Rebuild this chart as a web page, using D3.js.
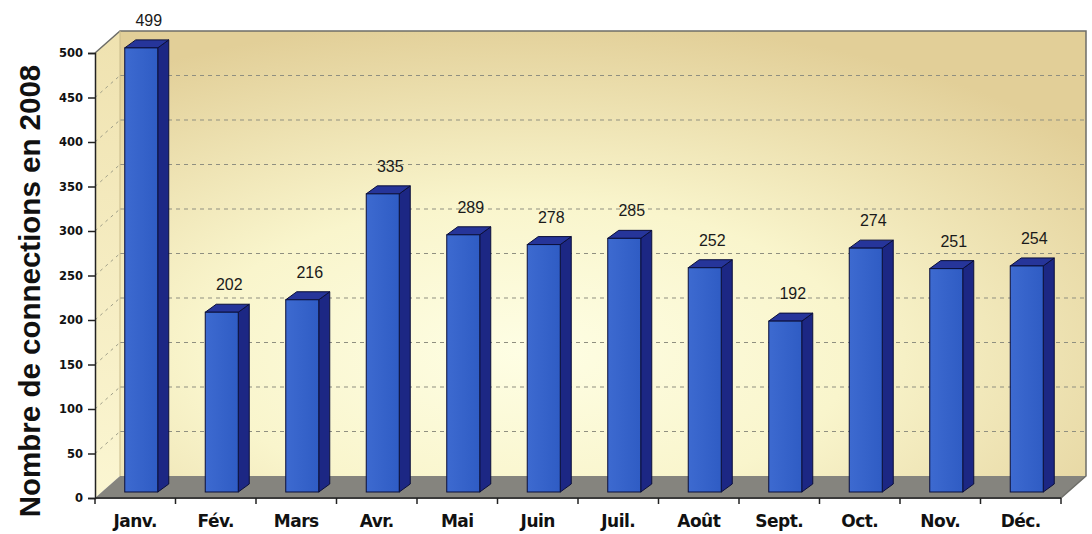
<!DOCTYPE html>
<html>
<head>
<meta charset="utf-8">
<script src="https://cdn.jsdelivr.net/npm/d3@7"></script>
<style>
  body { margin: 0; background: #fff; }
  svg { display: block; }
</style>
</head>
<body>
<div id="chart"></div>
<script>
const months = ['Janv.', 'Fév.', 'Mars', 'Avr.', 'Mai', 'Juin', 'Juil.', 'Août', 'Sept.', 'Oct.', 'Nov.', 'Déc.']
const connections = [499, 202, 216, 335, 289, 278, 285, 252, 192, 274, 251, 254]
const yTicks = [0, 50, 100, 150, 200, 250, 300, 350, 400, 450, 500]
const yTitle = 'Nombre de connections en 2008'

const width = 1092
const height = 534
// depth of the 3d box
const depthX = 25
const depthY = 22
// bar placement inside the depth
const barOffX = 6
const barOffY = 6
const barDx = 11
const barDy = 8

const x = d3.scaleBand().domain(months).range([95, 1061])
const y = d3.scaleLinear().domain([0, 500]).range([498, 53])
const barW = x.bandwidth() * 0.41

const svg = d3.select('#chart')
  .append('svg')
  .attr('width', width)
  .attr('height', height)

const defs = svg.append('defs')
const wall = defs.append('radialGradient')
  .attr('id', 'wall')
  .attr('cx', '42%').attr('cy', '72%').attr('r', '75%')
wall.append('stop').attr('offset', '0%').attr('stop-color', '#fefee4')
wall.append('stop').attr('offset', '45%').attr('stop-color', '#f9f5cc')
wall.append('stop').attr('offset', '100%').attr('stop-color', '#e2cf98')

const side = defs.append('linearGradient')
  .attr('id', 'side').attr('x1', 0).attr('y1', 0).attr('x2', 0).attr('y2', 1)
side.append('stop').attr('offset', '0%').attr('stop-color', '#efe2b0')
side.append('stop').attr('offset', '100%').attr('stop-color', '#fbf6d2')

const front = defs.append('linearGradient')
  .attr('id', 'front').attr('x1', 0).attr('y1', 0).attr('x2', 1).attr('y2', 0)
front.append('stop').attr('offset', '0%').attr('stop-color', '#3d6ad0')
front.append('stop').attr('offset', '100%').attr('stop-color', '#2f5cc4')

const x0 = x.range()[0]
const x1 = x.range()[1]
const yTop = y(500)
const yBot = y(0)

// back wall
svg.append('rect')
  .attr('x', x0 + depthX)
  .attr('y', yTop - depthY)
  .attr('width', x1 - x0)
  .attr('height', yBot - yTop)
  .attr('fill', 'url(#wall)')

// left side wall
svg.append('path')
  .attr('d', `M${x0},${yTop} L${x0 + depthX},${yTop - depthY} L${x0 + depthX},${yBot - depthY} L${x0},${yBot} Z`)
  .attr('fill', 'url(#side)')

// floor
svg.append('path')
  .attr('d', `M${x0},${yBot} L${x0 + depthX},${yBot - depthY} L${x1 + depthX},${yBot - depthY} L${x1},${yBot} Z`)
  .attr('fill', '#85847e')

// gridlines on back and side walls
const grid = yTicks.filter(d => d > 0 && d < 500)
svg.append('g').selectAll('line').data(grid).enter().append('line')
  .attr('x1', x0 + depthX)
  .attr('x2', x1 + depthX)
  .attr('y1', d => y(d) - depthY)
  .attr('y2', d => y(d) - depthY)
  .attr('stroke', '#8f8f80')
  .attr('stroke-width', 1)
  .attr('stroke-dasharray', '4,4')
svg.append('g').selectAll('line').data(grid).enter().append('line')
  .attr('x1', x0)
  .attr('x2', x0 + depthX)
  .attr('y1', d => y(d))
  .attr('y2', d => y(d) - depthY)
  .attr('stroke', '#a09f88')
  .attr('stroke-width', 1)
  .attr('stroke-dasharray', '3,4')

// frame
svg.append('path')
  .attr('d', `M${x0},${yTop} L${x0 + depthX},${yTop - depthY} L${x1 + depthX},${yTop - depthY} L${x1 + depthX},${yBot - depthY} L${x1},${yBot}`)
  .attr('fill', 'none')
  .attr('stroke', '#6d6d68')
  .attr('stroke-width', 1.5)
svg.append('line')
  .attr('x1', x0 + depthX).attr('x2', x0 + depthX)
  .attr('y1', yTop - depthY).attr('y2', yBot - depthY)
  .attr('stroke', '#c9bb8a').attr('stroke-width', 1)
svg.append('line')
  .attr('x1', x0).attr('x2', x1)
  .attr('y1', yBot).attr('y2', yBot)
  .attr('stroke', '#3a3a3a').attr('stroke-width', 2)

// bars
const data = months.map((m, i) => ({ m, v: connections[i] }))
const bars = svg.append('g').selectAll('g').data(data).enter().append('g')

bars.each(function (d) {
  const g = d3.select(this)
  const bx = x(d.m) + x.bandwidth() / 2 - barW / 2 + barOffX
  const by = y(d.v) - barOffY
  const bb = y(0) - barOffY
  g.append('path')
    .attr('d', `M${bx + barW},${by} L${bx + barW + barDx},${by - barDy} L${bx + barW + barDx},${bb - barDy} L${bx + barW},${bb} Z`)
    .attr('fill', '#1c2784')
    .attr('stroke', '#0b0f3a')
    .attr('stroke-width', 1)
  g.append('path')
    .attr('d', `M${bx},${by} L${bx + barDx},${by - barDy} L${bx + barW + barDx},${by - barDy} L${bx + barW},${by} Z`)
    .attr('fill', '#26359a')
    .attr('stroke', '#0b0f3a')
    .attr('stroke-width', 1)
  g.append('rect')
    .attr('x', bx)
    .attr('y', by)
    .attr('width', barW)
    .attr('height', bb - by)
    .attr('fill', 'url(#front)')
    .attr('stroke', '#0b0f3a')
    .attr('stroke-width', 1)
  g.append('text')
    .attr('x', bx + barW / 2 + barDx / 2 + 2)
    .attr('y', by - barDy - 14)
    .attr('text-anchor', 'middle')
    .attr('font-family', 'Liberation Sans, Arial, sans-serif')
    .attr('font-size', 16)
    .attr('fill', '#1a1a1a')
    .text(d.v)
})

// y axis
const yAxis = svg.append('g')
  .attr('transform', `translate(${x0},0)`)
  .call(d3.axisLeft(y).tickValues(yTicks).tickSize(7).tickPadding(5))
yAxis.select('.domain').attr('stroke', '#222').attr('stroke-width', 1.5)
yAxis.selectAll('.tick line').attr('stroke', '#222').attr('stroke-width', 1.5)
yAxis.selectAll('.tick text')
  .attr('font-family', 'DejaVu Sans, sans-serif')
  .attr('font-weight', 'bold')
  .attr('font-size', 11.5)
  .attr('fill', '#111')

// x axis
const xAxis = svg.append('g')
  .attr('transform', `translate(0,${yBot})`)
  .call(d3.axisBottom(x).tickSize(0).tickPadding(17))
xAxis.select('.domain').remove()
xAxis.selectAll('.tick text')
  .attr('font-family', 'DejaVu Sans, sans-serif')
  .attr('font-weight', 'bold')
  .attr('font-size', 17)
  .attr('letter-spacing', -0.5)
  .attr('fill', '#111')
svg.append('g').selectAll('line').data(d3.range(months.length + 1)).enter().append('line')
  .attr('x1', i => x0 + i * x.step())
  .attr('x2', i => x0 + i * x.step())
  .attr('y1', yBot)
  .attr('y2', yBot + 6)
  .attr('stroke', '#222')
  .attr('stroke-width', 1.5)

// y title
svg.append('text')
  .attr('transform', `translate(40,291) rotate(-90)`)
  .attr('text-anchor', 'middle')
  .attr('font-family', 'Liberation Sans, Arial, sans-serif')
  .attr('font-weight', 'bold')
  .attr('font-size', 29.5)
  .attr('fill', '#111')
  .text(yTitle)
</script>
</body>
</html>
